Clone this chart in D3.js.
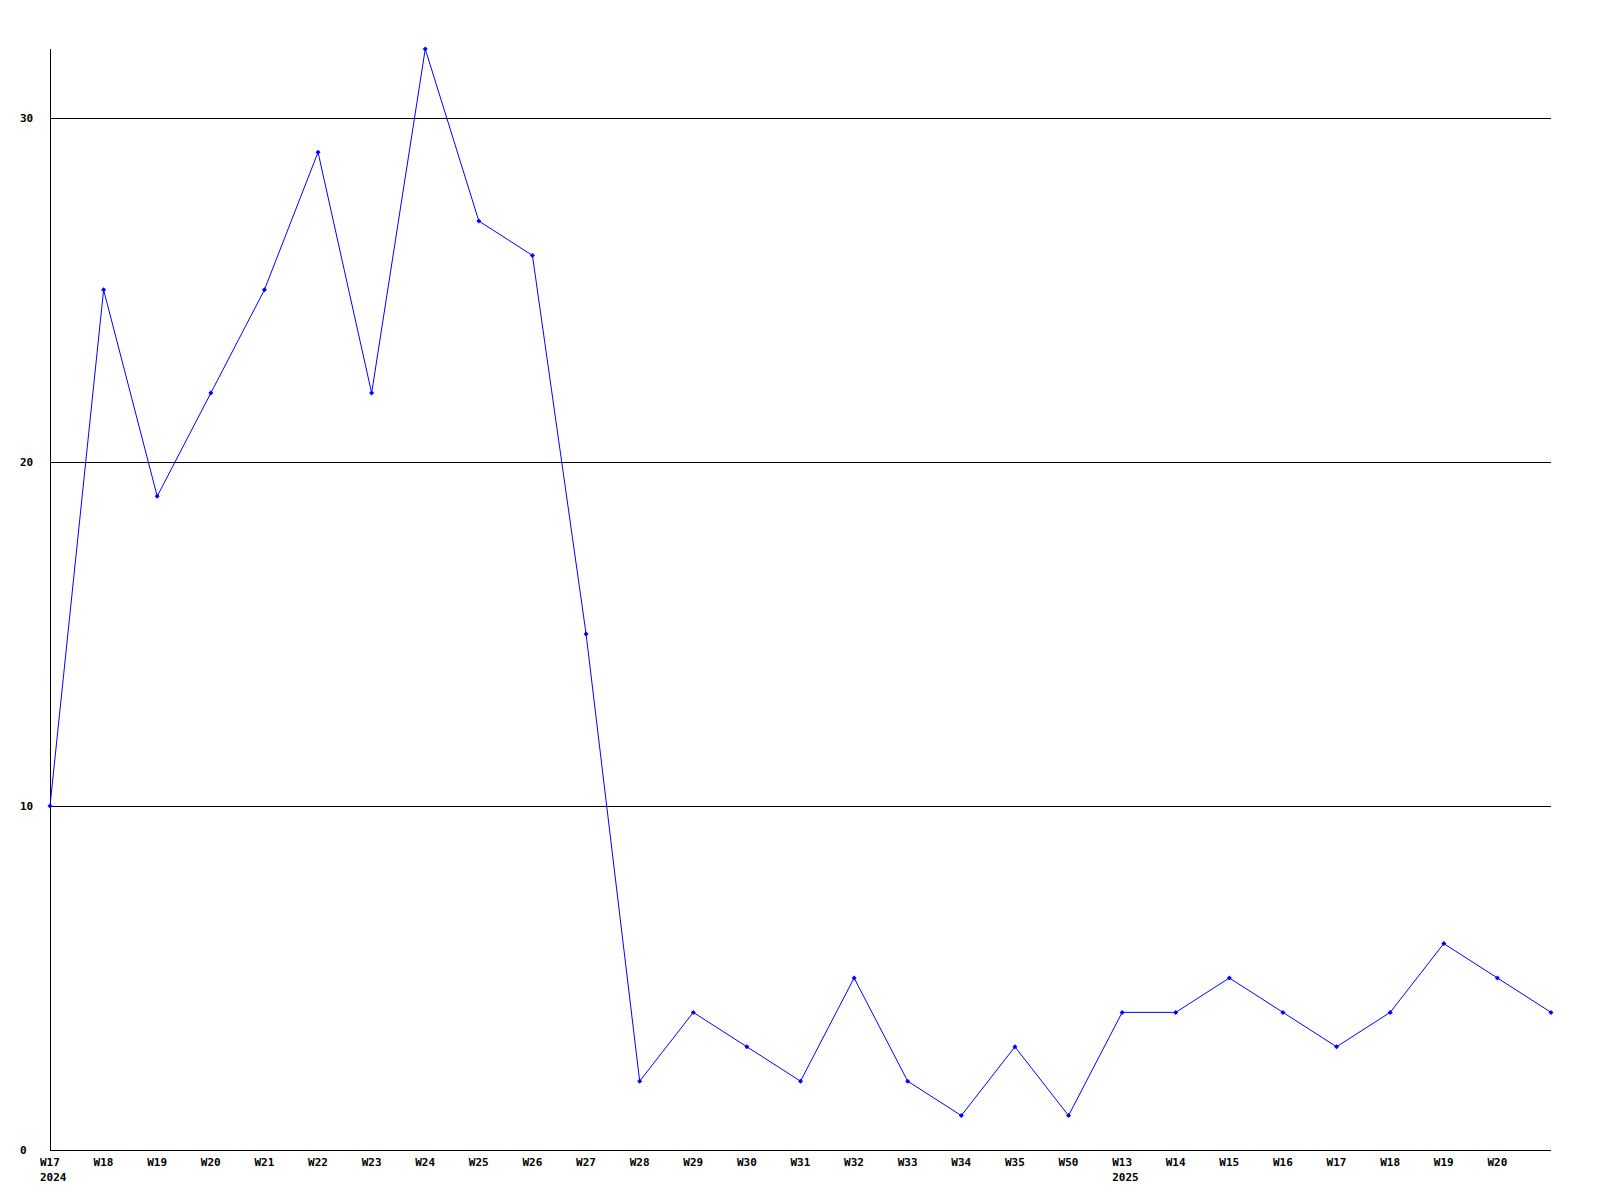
<!DOCTYPE html>
<html><head><meta charset="utf-8">
<script src="https://cdn.jsdelivr.net/npm/d3@7"></script>
<style>body{margin:0;background:#fff}svg{display:block}text{font-family:"DejaVu Sans Mono",monospace;font-weight:bold;font-size:11px;fill:#000}</style>
</head><body><svg id="c" width="1600" height="1200"></svg>
<script>
const weeks = ["W17","W18","W19","W20","W21","W22","W23","W24","W25","W26","W27","W28","W29","W30","W31","W32","W33","W34","W35","W50","W13","W14","W15","W16","W17","W18","W19","W20",""];
const years = ["2024","","","","","","","","","","","","","","","","","","","","2025","","","","","","","",""];
const values = [10,25,19,22,25,29,22,32,27,26,15,2,4,3,2,5,2,1,3,1,4,4,5,4,3,4,6,5,4];
const yTicks = [0,10,20,30];

(function(){
const svg = d3.select("#c");
const mLeft = 50, mRight = 1551, mTop = 49, mBottom = 1150;
const x = d3.scaleLinear().domain([0, values.length - 1]).range([mLeft, mRight]);
const y = d3.scaleLinear().domain([0, 32]).range([mBottom, mTop]);

svg.append("g").selectAll("line").data(yTicks.filter(d => d > 0)).join("line")
  .attr("x1", mLeft).attr("x2", mRight)
  .attr("y1", d => Math.round(y(d)) + 0.5).attr("y2", d => Math.round(y(d)) + 0.5)
  .attr("stroke", "#000").attr("stroke-width", 1).attr("shape-rendering", "crispEdges");
svg.append("line").attr("x1", mLeft + 0.5).attr("x2", mLeft + 0.5).attr("y1", mTop).attr("y2", mBottom)
  .attr("stroke", "#000").attr("shape-rendering", "crispEdges");
svg.append("line").attr("x1", mLeft).attr("x2", mRight).attr("y1", mBottom + 0.5).attr("y2", mBottom + 0.5)
  .attr("stroke", "#000").attr("shape-rendering", "crispEdges");

svg.append("g").selectAll("text").data(yTicks).join("text")
  .attr("x", 20).attr("y", d => y(d) + 4).text(d => d);

svg.append("g").selectAll("text").data(weeks).join("text")
  .attr("x", (d, i) => x(i) - 10).attr("y", mBottom + 16).text(d => d);
svg.append("g").selectAll("text").data(years).join("text")
  .attr("x", (d, i) => x(i) - 10).attr("y", mBottom + 31).text(d => d);

const line = d3.line().x((d, i) => x(i)).y(d => y(d));
svg.append("path").datum(values).attr("d", line).attr("fill", "none")
  .attr("stroke", "#0000ff").attr("stroke-width", 1);
svg.append("g").selectAll("path").data(values).join("path")
  .attr("d", (d, i) => { const cx = x(i), cy = y(d); return `M${cx-2.5},${cy}L${cx},${cy-2.5}L${cx+2.5},${cy}L${cx},${cy+2.5}Z`; })
  .attr("fill", "#0000ff");
})();
</script></body></html>
